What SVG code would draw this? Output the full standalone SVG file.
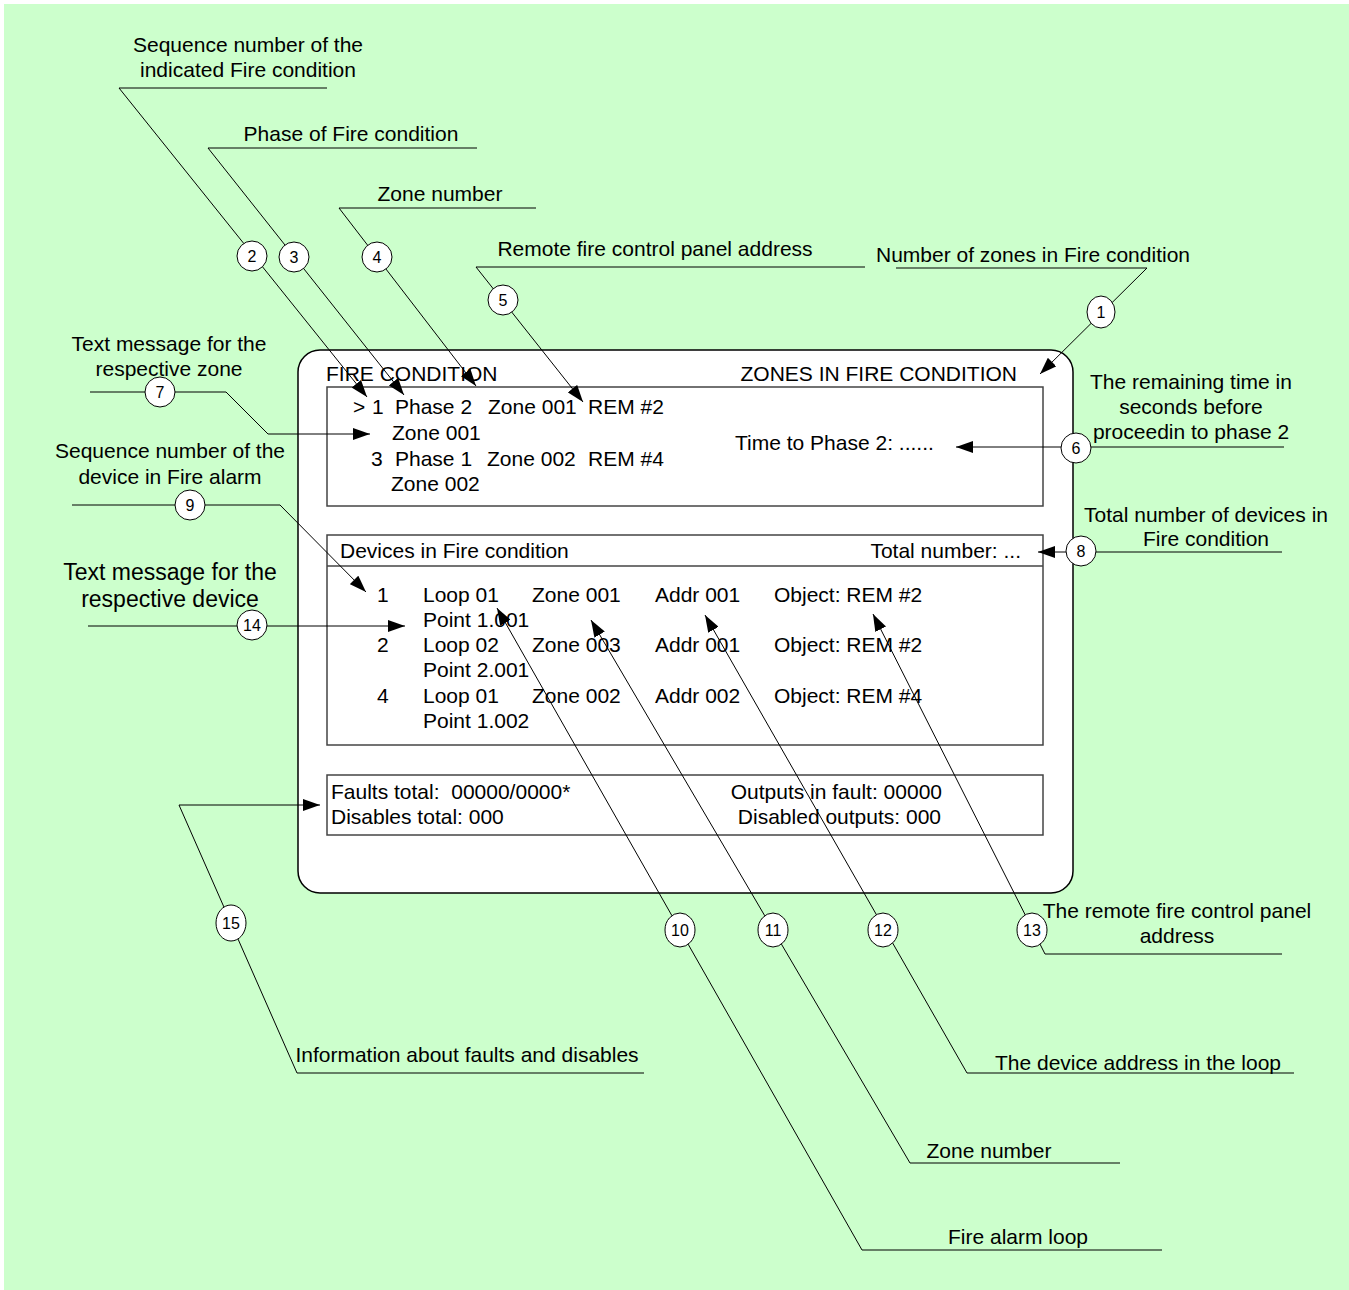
<svg xmlns="http://www.w3.org/2000/svg" width="1349" height="1290" viewBox="0 0 1349 1290">
<defs>
<marker id="ah" markerWidth="17" markerHeight="12" refX="17" refY="6" orient="auto" markerUnits="userSpaceOnUse"><path d="M0,0 L17,6 L0,12 z" fill="#000"/></marker>
<style>
text{font-family:"Liberation Sans",Arial,sans-serif;font-size:21px;fill:#000}
.c{text-anchor:middle}
.e{text-anchor:end}
.big{font-size:23px}
.n{font-size:16px;text-anchor:middle}
.ln{fill:none;stroke:#000;stroke-width:1}
.ar{marker-end:url(#ah)}
.cir{fill:#fff;stroke:#000;stroke-width:1}
.box{fill:#fff;stroke:#444;stroke-width:1.5}
</style>
</defs>
<rect x="4" y="4" width="1345" height="1286" fill="#CCFFCC"/>

<g id="panel">
<rect x="298" y="350" width="775" height="543" rx="22" ry="22" fill="#fff" stroke="#000" stroke-width="1.5"/>
<text x="326" y="381">FIRE CONDITION</text>
<text x="1017" y="381" class="e">ZONES IN FIRE CONDITION</text>
</g>

<g id="zones-box">
<rect x="327" y="387" width="716" height="119" class="box"/>
<text x="353" y="414">&gt;</text><text x="372" y="414">1</text><text x="395" y="414">Phase 2</text><text x="488" y="414">Zone 001</text><text x="588" y="414">REM #2</text>
<text x="392" y="440">Zone 001</text>
<text x="371" y="466">3</text><text x="395" y="466">Phase 1</text><text x="487" y="466">Zone 002</text><text x="588" y="466">REM #4</text>
<text x="391" y="491">Zone 002</text>
<text x="735" y="450">Time to Phase 2: ......</text>
</g>

<g id="devices-box">
<rect x="327" y="535" width="716" height="210" class="box"/>
<line x1="327" y1="566" x2="1043" y2="566" stroke="#444" stroke-width="1.5"/>
<text x="340" y="558">Devices in Fire condition</text>
<text x="1021" y="558" class="e">Total number: ...</text>
<text x="377" y="602">1</text><text x="423" y="602">Loop 01</text><text x="532" y="602">Zone 001</text><text x="655" y="602">Addr 001</text><text x="774" y="602">Object: REM #2</text>
<text x="423" y="627">Point 1.001</text>
<text x="377" y="652">2</text><text x="423" y="652">Loop 02</text><text x="532" y="652">Zone 003</text><text x="655" y="652">Addr 001</text><text x="774" y="652">Object: REM #2</text>
<text x="423" y="677">Point 2.001</text>
<text x="377" y="703">4</text><text x="423" y="703">Loop 01</text><text x="532" y="703">Zone 002</text><text x="655" y="703">Addr 002</text><text x="774" y="703">Object: REM #4</text>
<text x="423" y="728">Point 1.002</text>
</g>

<g id="faults-box">
<rect x="327" y="775" width="716" height="60" class="box"/>
<text x="331" y="799">Faults total:&#160; 00000/0000*</text>
<text x="331" y="824">Disables total: 000</text>
<text x="942" y="799" class="e">Outputs in fault: 00000</text>
<text x="941" y="824" class="e">Disabled outputs: 000</text>
</g>

<g id="labels">
<text x="248" y="52" class="c">Sequence number of the</text>
<text x="248" y="77" class="c">indicated Fire condition</text>
<text x="351" y="141" class="c">Phase of Fire condition</text>
<text x="440" y="201" class="c">Zone number</text>
<text x="655" y="256" class="c">Remote fire control panel address</text>
<text x="1033" y="262" class="c">Number of zones in Fire condition</text>
<text x="1191" y="389" class="c">The remaining time in</text>
<text x="1191" y="414" class="c">seconds before</text>
<text x="1191" y="439" class="c">proceedin to phase 2</text>
<text x="169" y="351" class="c">Text message for the</text>
<text x="169" y="376" class="c">respective zone</text>
<text x="170" y="458" class="c">Sequence number of the</text>
<text x="170" y="484" class="c">device in Fire alarm</text>
<text x="170" y="580" class="c big">Text message for the</text>
<text x="170" y="607" class="c big">respective device</text>
<text x="1206" y="522" class="c">Total number of devices in</text>
<text x="1206" y="546" class="c">Fire condition</text>
<text x="1177" y="918" class="c">The remote fire control panel</text>
<text x="1177" y="943" class="c">address</text>
<text x="467" y="1062" class="c">Information about faults and disables</text>
<text x="1138" y="1070" class="c">The device address in the loop</text>
<text x="989" y="1158" class="c">Zone number</text>
<text x="1018" y="1244" class="c">Fire alarm loop</text>
</g>

<g id="connectors">
<polyline class="ln ar" points="327,88 119,88 367,397"/>
<polyline class="ln ar" points="477,148 208,148 404,395"/>
<polyline class="ln ar" points="536,208 339,208 476,386"/>
<polyline class="ln ar" points="865,267 476,267 583,402"/>
<polyline class="ln ar" points="896,268 1147,268 1040,374"/>
<polyline class="ln ar" points="1284,447 956,447"/>
<polyline class="ln ar" points="90,392 226,392 268,434 370,434"/>
<polyline class="ln ar" points="72,505 280,505 366,592"/>
<polyline class="ln ar" points="88,626 405,626"/>
<polyline class="ln ar" points="1282,552 1038,552"/>
<polyline class="ln ar" points="1162,1250 862,1250 497,608"/>
<polyline class="ln ar" points="1120,1163 910,1163 591,620"/>
<polyline class="ln ar" points="1294,1073 967,1073 705,615"/>
<polyline class="ln ar" points="1282,954 1045,954 873,614"/>
<polyline class="ln ar" points="644,1073 297,1073 179,805 320,805"/>
</g>

<g id="c1"><ellipse cx="1101" cy="312" rx="14" ry="16" class="cir"/><text x="1101" y="318" class="n">1</text></g>
<g id="c2"><circle cx="252" cy="256" r="15" class="cir"/><text x="252" y="262" class="n">2</text></g>
<g id="c3"><circle cx="294" cy="257" r="15" class="cir"/><text x="294" y="263" class="n">3</text></g>
<g id="c4"><circle cx="377" cy="257" r="15" class="cir"/><text x="377" y="263" class="n">4</text></g>
<g id="c5"><circle cx="503" cy="300" r="15" class="cir"/><text x="503" y="306" class="n">5</text></g>
<g id="c6"><circle cx="1076" cy="448" r="15" class="cir"/><text x="1076" y="454" class="n">6</text></g>
<g id="c7"><circle cx="160" cy="392" r="15" class="cir"/><text x="160" y="398" class="n">7</text></g>
<g id="c8"><circle cx="1081" cy="551" r="15" class="cir"/><text x="1081" y="557" class="n">8</text></g>
<g id="c9"><circle cx="190" cy="505" r="15" class="cir"/><text x="190" y="511" class="n">9</text></g>
<g id="c10"><ellipse cx="680" cy="930" rx="15" ry="17" class="cir"/><text x="680" y="936" class="n">10</text></g>
<g id="c11"><ellipse cx="773" cy="930" rx="15" ry="17" class="cir"/><text x="773" y="936" class="n">11</text></g>
<g id="c12"><ellipse cx="883" cy="930" rx="15" ry="17" class="cir"/><text x="883" y="936" class="n">12</text></g>
<g id="c13"><ellipse cx="1032" cy="930" rx="15" ry="17" class="cir"/><text x="1032" y="936" class="n">13</text></g>
<g id="c14"><circle cx="252" cy="625" r="15" class="cir"/><text x="252" y="631" class="n">14</text></g>
<g id="c15"><ellipse cx="231" cy="923" rx="15" ry="18" class="cir"/><text x="231" y="929" class="n">15</text></g>
</svg>
